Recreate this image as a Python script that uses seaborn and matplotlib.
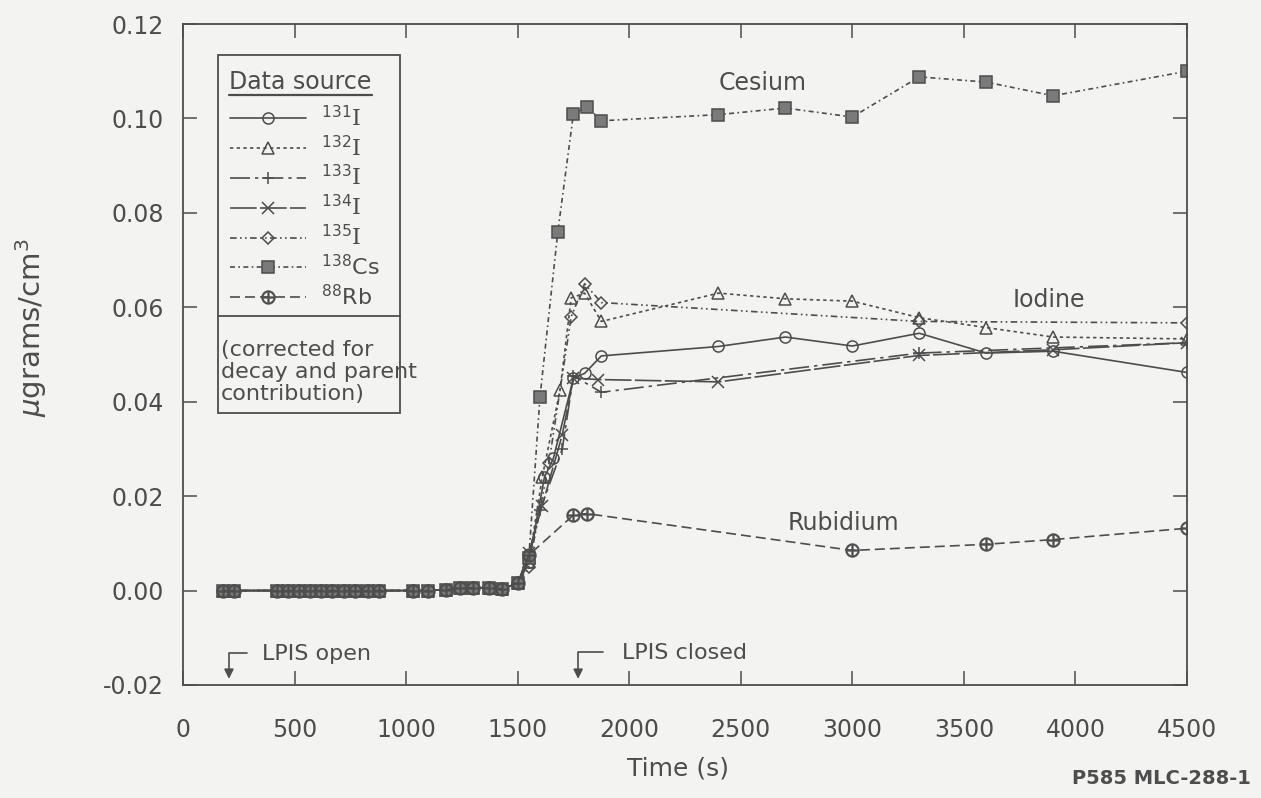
import matplotlib
matplotlib.use("Agg")
import matplotlib.pyplot as plt
from matplotlib.lines import Line2D
from matplotlib.patches import Rectangle
import seaborn as sns

sns.set_theme(style="ticks")
plt.rcParams["font.family"] = ["DejaVu Sans"]
plt.rcParams["mathtext.fontset"] = "custom"
plt.rcParams["mathtext.rm"] = "DejaVu Serif"
plt.rcParams["mathtext.sf"] = "DejaVu Sans"
plt.rcParams["mathtext.it"] = "DejaVu Sans:italic"
plt.rcParams["mathtext.bf"] = "DejaVu Sans:bold"

INK = "#4d4d4d"
PAPER = "#f3f3f1"

# Common pre-release baseline (all species near zero)
t_baseline = [180, 230, 420, 470, 520, 570, 620, 670, 720, 770, 830, 880,
              1030, 1100, 1180, 1240, 1300, 1370, 1430, 1500]
c_baseline = [0.0, 0.0, 0.0, 0.0, 0.0, 0.0, 0.0, 0.0, 0.0, 0.0, 0.0, 0.0,
              0.0, 0.0, 0.0002, 0.0005, 0.0006, 0.0006, 0.0004, 0.0015]

# Concentrations after the release (s, ugrams/cm3)
i131_t = [1550, 1620, 1660, 1750, 1800, 1875, 2400, 2700, 3000, 3300, 3600, 3900, 4500]
i131_c = [0.006, 0.024, 0.028, 0.045, 0.046, 0.0497, 0.0517, 0.0537, 0.0518, 0.0545, 0.0503, 0.0507, 0.0462]

i132_t = [1550, 1610, 1690, 1740, 1800, 1875, 2400, 2700, 3000, 3300, 3600, 3900, 4500]
i132_c = [0.006, 0.024, 0.0425, 0.062, 0.063, 0.057, 0.063, 0.0618, 0.0613, 0.0578, 0.0557, 0.0537, 0.0533]

i133_t = [1550, 1600, 1700, 1750, 1875, 3300, 4500]
i133_c = [0.007, 0.017, 0.030, 0.0455, 0.042, 0.0503, 0.0525]

i134_t = [1550, 1610, 1700, 1750, 1860, 2400, 3300, 3900, 4500]
i134_c = [0.008, 0.018, 0.033, 0.045, 0.0447, 0.0442, 0.0498, 0.051, 0.0525]

i135_t = [1550, 1640, 1740, 1800, 1875, 3300, 4500]
i135_c = [0.005, 0.027, 0.058, 0.065, 0.061, 0.057, 0.0567]

cs138_t = [1550, 1600, 1680, 1750, 1810, 1875, 2400, 2700, 3000, 3300, 3600, 3900, 4500]
cs138_c = [0.007, 0.041, 0.076, 0.101, 0.1025, 0.0995, 0.1008, 0.1022, 0.1003, 0.1088, 0.1077, 0.1048, 0.1100]

rb88_t = [1550, 1750, 1810, 3000, 3600, 3900, 4500]
rb88_c = [0.0075, 0.016, 0.0163, 0.0085, 0.0098, 0.0108, 0.0132]

labels = [r"$^{\mathsf{131}}\mathrm{I}$", r"$^{\mathsf{132}}\mathrm{I}$",
          r"$^{\mathsf{133}}\mathrm{I}$", r"$^{\mathsf{134}}\mathrm{I}$",
          r"$^{\mathsf{135}}\mathrm{I}$", r"$^{\mathsf{138}}$Cs", r"$^{\mathsf{88}}$Rb"]
x_ticks = [0, 500, 1000, 1500, 2000, 2500, 3000, 3500, 4000, 4500]
y_ticks = [-0.02, 0.0, 0.02, 0.04, 0.06, 0.08, 0.10, 0.12]

styles = [
    dict(marker="o", linestyle="-", markersize=8, markerfacecolor="none", markeredgewidth=1.1),
    dict(marker="^", linestyle=(0, (2, 2)), markersize=8, markerfacecolor="none", markeredgewidth=1.1),
    dict(marker="+", linestyle=(0, (12, 3, 2, 3)), markersize=9, markerfacecolor="none", markeredgewidth=1.1),
    dict(marker="x", linestyle=(0, (16, 2)), markersize=8, markerfacecolor="none", markeredgewidth=1.1),
    dict(marker="D", linestyle=(0, (4, 2, 1, 2, 1, 2)), markersize=6, markerfacecolor="none", markeredgewidth=1.1),
    dict(marker="s", linestyle=(0, (3, 2, 1, 2)), markersize=8, markerfacecolor="#7a7a7a", markeredgewidth=1.1),
    dict(marker=r"$\oplus$", linestyle=(0, (6, 3)), markersize=10, markerfacecolor=INK, markeredgewidth=0.3),
]
series_t = [i131_t, i132_t, i133_t, i134_t, i135_t, cs138_t, rb88_t]
series_c = [i131_c, i132_c, i133_c, i134_c, i135_c, cs138_c, rb88_c]

fig = plt.figure(figsize=(12.61, 7.98), dpi=100, facecolor=PAPER)
ax = fig.add_axes([183 / 1261, 113 / 798, 1004 / 1261, 661 / 798])
ax.set_facecolor(PAPER)

handles = []
for t, c, st in zip(series_t, series_c, styles):
    sns.lineplot(x=t_baseline + t, y=c_baseline + c, ax=ax, color=INK,
                 linewidth=1.2, markeredgecolor=INK,
                 estimator=None, sort=False, **st)
    handles.append(Line2D([], [], color=INK, linewidth=1.2,
                          markeredgecolor=INK, **st))

ax.set_xlim(0, 4500)
ax.set_ylim(-0.02, 0.12)
ax.set_xticks(x_ticks)
ax.set_yticks(y_ticks)
ax.set_yticklabels([f"{v:.2f}" for v in y_ticks])
ax.tick_params(axis="both", direction="in", length=10, width=1.1, color=INK,
               labelcolor=INK, labelsize=17, top=True, right=True)
ax.tick_params(axis="y", pad=14)
ax.tick_params(axis="x", pad=24)
for sp in ax.spines.values():
    sp.set_color(INK)
    sp.set_linewidth(1.3)

ax.set_xlabel("Time (s)", fontsize=18, color=INK, labelpad=10)
ax.xaxis.set_label_coords(0.493, -0.108)
ax.set_ylabel(r"$\mu$grams/cm$^{\mathsf{3}}$", fontsize=21, color=INK)
ax.yaxis.set_label_coords(-0.133, 0.54)

# Legend panel: titled key plus a note compartment below it
ax.add_patch(Rectangle((0.035, 0.411), 0.181, 0.542, transform=ax.transAxes,
                       facecolor=PAPER, edgecolor=INK, linewidth=1.3, zorder=4))
ax.add_line(Line2D([0.035, 0.216], [0.558, 0.558], transform=ax.transAxes,
                   color=INK, linewidth=1.3, zorder=5))
title = ax.text(0.046, 0.912, "Data source", transform=ax.transAxes, fontsize=17,
                color=INK, va="center", ha="left", zorder=6)
leg = ax.legend(handles, labels, loc="upper left", bbox_to_anchor=(0.047, 0.878),
                frameon=False, fontsize=16, handlelength=3.4, handletextpad=0.7,
                labelspacing=0.21, borderaxespad=0, borderpad=0)
for txt in leg.get_texts():
    txt.set_color(INK)
leg.set_zorder(6)
ax.text(0.038, 0.522, "(corrected for\ndecay and parent\ncontribution)",
        transform=ax.transAxes, fontsize=16, color=INK, va="top", ha="left",
        linespacing=1.13, zorder=6)

fig.canvas.draw()
bb = title.get_window_extent()
(x0, y0), (x1, y1) = ax.transAxes.inverted().transform(bb)
ax.add_line(Line2D([x0, x1], [y0 - 0.002, y0 - 0.002], transform=ax.transAxes,
                   color=INK, linewidth=1.6, zorder=6))

# Species labels
ax.text(2600, 0.1075, "Cesium", fontsize=17, color=INK, ha="center", va="center")
ax.text(3880, 0.0615, "Iodine", fontsize=17, color=INK, ha="center", va="center")
ax.text(2960, 0.0143, "Rubidium", fontsize=17, color=INK, ha="center", va="center")

# Valve event markers
arrow = dict(arrowstyle="-|>", color=INK, lw=1.2, mutation_scale=14,
             shrinkA=0, shrinkB=0, connectionstyle="angle,angleA=0,angleB=90,rad=0")
ax.annotate("", xy=(206, -0.0187), xytext=(287, -0.0133), arrowprops=arrow)
ax.text(354, -0.0134, "LPIS open", fontsize=16, color=INK, va="center")
ax.annotate("", xy=(1771, -0.0187), xytext=(1882, -0.0131), arrowprops=arrow)
ax.text(1968, -0.0132, "LPIS closed", fontsize=16, color=INK, va="center")

fig.text(1072 / 1261, 1 - 779 / 798, "P585 MLC-288-1", fontsize=14, color=INK,
         va="center", ha="left", fontweight="bold")

fig.savefig("out.png", dpi=100, facecolor=PAPER)
